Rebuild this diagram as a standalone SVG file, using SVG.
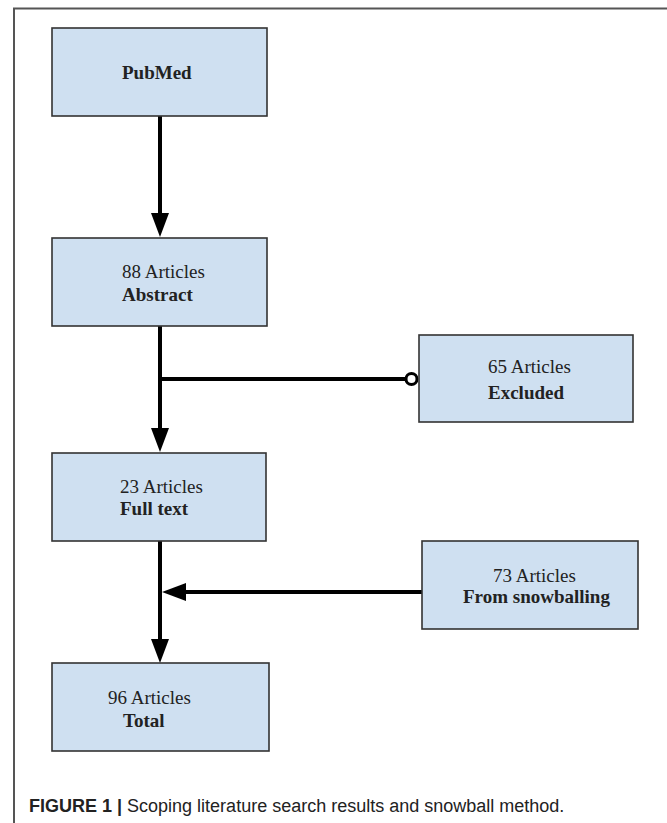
<svg xmlns="http://www.w3.org/2000/svg" width="667" height="823" viewBox="0 0 667 823">
  <style>
    .box { fill: #cfe0f1; stroke: #333; stroke-width: 1.6; }
    .t { font-family: "Liberation Serif", "Times New Roman", serif; font-size: 19px; fill: #222; }
    .b { font-weight: bold; }
    .edge { stroke: #000; stroke-width: 4; fill: none; }
    .frame { stroke: #555; stroke-width: 2; fill: none; }
    .cap { font-family: "Liberation Sans", Arial, sans-serif; font-size: 18px; fill: #222; }
  </style>
  <defs>
    <marker id="arrow" viewBox="0 0 24 18" markerWidth="24" markerHeight="18" refX="0" refY="9" orient="auto" markerUnits="userSpaceOnUse">
      <path d="M0,0 L24,9 L0,18 z" fill="#000"/>
    </marker>
    <marker id="circ" viewBox="0 0 16 16" markerWidth="16" markerHeight="16" refX="1.5" refY="8" orient="auto" markerUnits="userSpaceOnUse">
      <circle cx="8" cy="8" r="5.5" fill="#fff" stroke="#000" stroke-width="3"/>
    </marker>
  </defs>
  <rect width="667" height="823" fill="#fff"/>
  <path class="frame" d="M14,823 L14,8.5 L667,8.5"/>

  <g id="connectors">
    <line class="edge" x1="160" y1="116" x2="160" y2="213" marker-end="url(#arrow)"/>
    <line class="edge" x1="160" y1="326" x2="160" y2="428" marker-end="url(#arrow)"/>
    <line class="edge" x1="160" y1="379" x2="405" y2="379" stroke-width="3.5" marker-end="url(#circ)"/>
    <line class="edge" x1="160" y1="541" x2="160" y2="639" marker-end="url(#arrow)"/>
    <line class="edge" x1="422" y1="592" x2="186" y2="592" stroke-width="3.5" marker-end="url(#arrow)"/>
  </g>

  <g id="pubmed">
    <rect class="box" x="52" y="28" width="215" height="88"/>
    <text class="t b" x="122" y="79">PubMed</text>
  </g>
  <g id="abstract">
    <rect class="box" x="52" y="238" width="215" height="88"/>
    <text class="t" x="122" y="278">88 Articles</text>
    <text class="t b" x="122" y="301">Abstract</text>
  </g>
  <g id="excluded">
    <rect class="box" x="419" y="335" width="214" height="87"/>
    <text class="t" x="488" y="373">65 Articles</text>
    <text class="t b" x="488" y="399">Excluded</text>
  </g>
  <g id="fulltext">
    <rect class="box" x="52" y="453" width="214" height="88"/>
    <text class="t" x="120" y="493">23 Articles</text>
    <text class="t b" x="120" y="515">Full text</text>
  </g>
  <g id="snowballing">
    <rect class="box" x="422" y="541" width="216" height="88"/>
    <text class="t" x="493" y="582">73 Articles</text>
    <text class="t b" x="463" y="603">From snowballing</text>
  </g>
  <g id="total">
    <rect class="box" x="52" y="663" width="217" height="88"/>
    <text class="t" x="108" y="704">96 Articles</text>
    <text class="t b" x="123" y="727">Total</text>
  </g>

  <text class="cap" x="29" y="812"><tspan font-weight="bold">FIGURE 1 | </tspan>Scoping literature search results and snowball method.</text>
</svg>
